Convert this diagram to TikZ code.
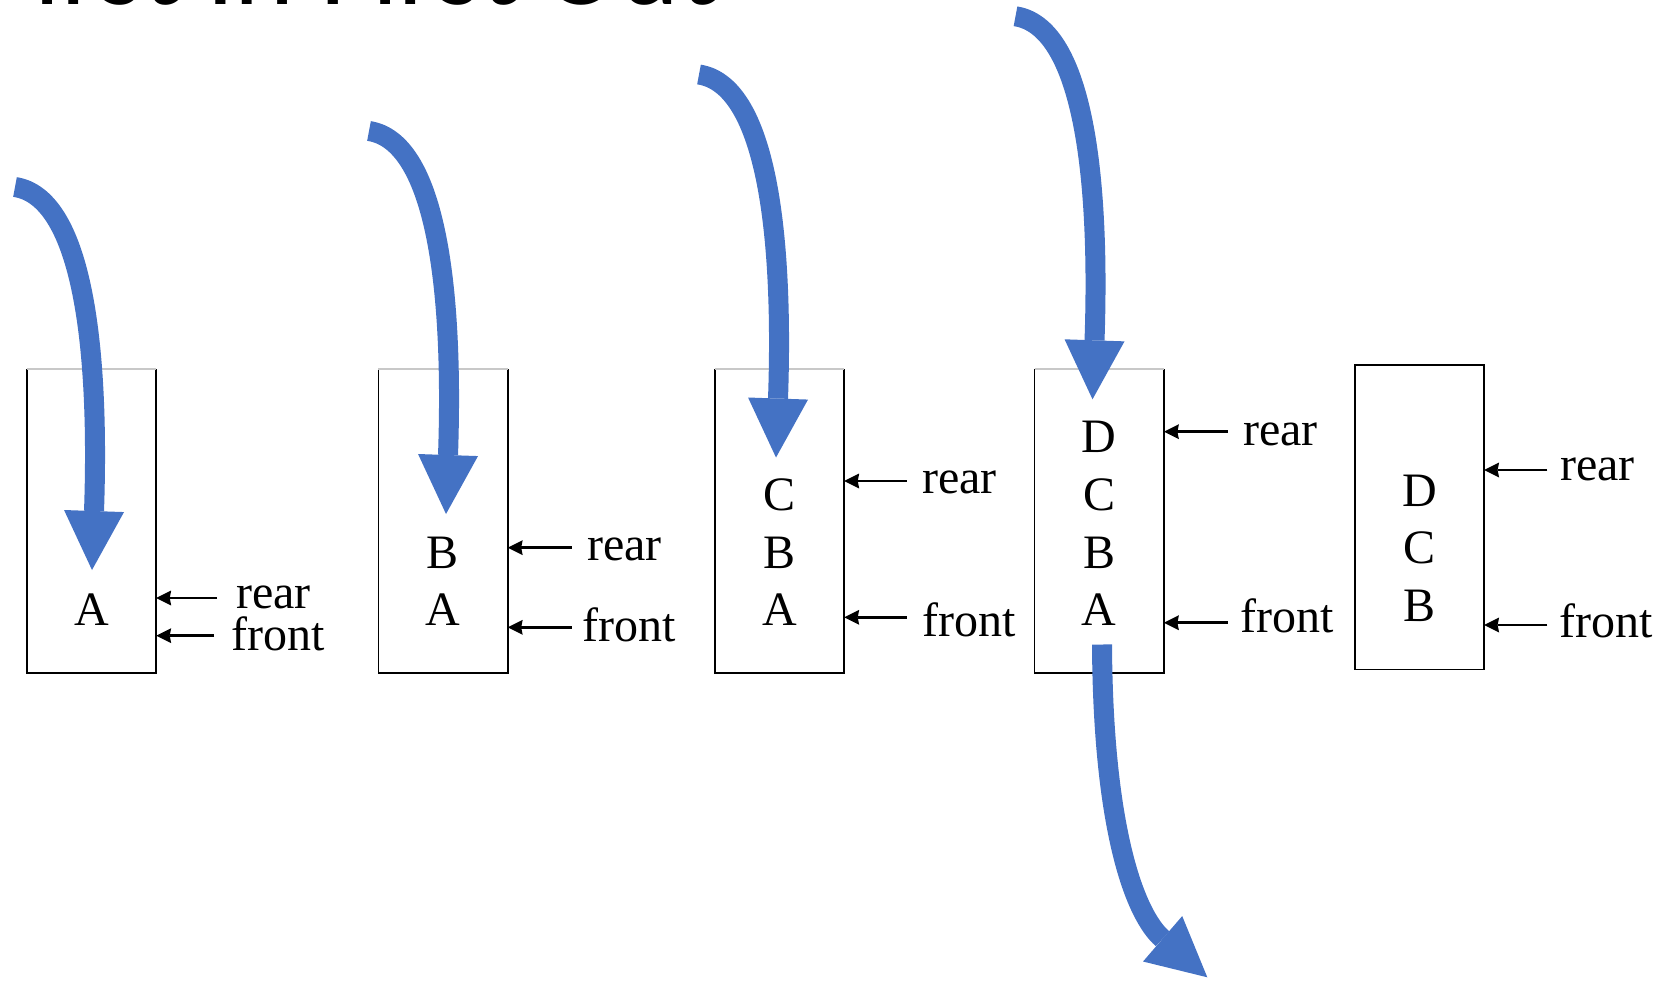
\documentclass[tikz,border=0pt]{standalone}
\usepackage{fontspec}
\setmainfont{Liberation Serif}
\newfontfamily\titlefont{Carlito}
\usetikzlibrary{arrows.meta,calc}
\definecolor{qblue}{HTML}{4472C4}
\definecolor{topgray}{HTML}{C8C8C8}
\begin{document}
\begin{tikzpicture}[x=1pt,y=-1pt,
  qbox/.style={rectangle, inner sep=0pt, minimum width=129pt, minimum height=304pt},
  side/.style={line width=1.6pt, black},
  lid/.style={line width=1.6pt, topgray},
  letter/.style={anchor=base, inner sep=0pt, font=\fontsize{48}{48}\selectfont},
  lbl/.style={anchor=base west, inner sep=0pt, font=\fontsize{48}{48}\selectfont},
  ptr/.style={line width=2.8pt, -{Stealth[length=15pt,width=15pt,inset=1.5pt,line width=0pt]}},
  flow/.style={line width=20pt, qblue, -{Triangle[width=60pt,length=59pt,line width=0pt]}}]
\useasboundingbox (0,0) rectangle (1665,980);
\clip (0,0) rectangle (1665,980);

% title (cut off at top)
\node[anchor=base west, inner sep=0pt, font=\titlefont\fontsize{114}{114}\selectfont] (title) at (-17.6,4.5) {First In First Out};

% boxes
\node[qbox] (b1) at (91.5,521) {};
\node[qbox] (b2) at (443,521) {};
\node[qbox] (b3) at (779.5,521) {};
\node[qbox] (b4) at (1099.2,521) {};
\node[qbox] (b5) at (1419.4,517.2) {};
\foreach \b in {b1,b2,b3,b4}{
  \draw[side] (\b.north west) -- (\b.south west) -- (\b.south east) -- (\b.north east);
  \draw[lid] (\b.north west) -- (\b.north east);
}
\draw[side] (b5.north west) rectangle (b5.south east);

% letters
\node[letter] (b1a) at (91.5,625) {A};
\node[letter] (b2b) at (443,568.3) {B};
\node[letter] (b2a) at (443,625) {A};
\node[letter] (b3c) at (779.5,510) {C};
\node[letter] (b3b) at (779.5,568) {B};
\node[letter] (b3a) at (779.5,625) {A};
\node[letter] (b4d) at (1099.2,452) {D};
\node[letter] (b4c) at (1099.2,510) {C};
\node[letter] (b4b) at (1099.2,568) {B};
\node[letter] (b4a) at (1099.2,625) {A};
\node[letter] (b5d) at (1419.4,506) {D};
\node[letter] (b5c) at (1419.4,563.5) {C};
\node[letter] (b5b) at (1419.4,621) {B};

% labels
\node[lbl] (r1) at (236,608.3) {rear};
\node[lbl] (f1) at (231,650) {front};
\node[lbl] (r2) at (587,560) {rear};
\node[lbl] (f2) at (582,641.7) {front};
\node[lbl] (r3) at (922,493.3) {rear};
\node[lbl] (f3) at (922,636) {front};
\node[lbl] (r4) at (1243,445) {rear};
\node[lbl] (f4) at (1240,632.7) {front};
\node[lbl] (r5) at (1560,480) {rear};
\node[lbl] (f5) at (1559,637.7) {front};

% pointer arrows
\coordinate (pr1) at (217,598);
\coordinate (pf1) at (214,635.7);
\coordinate (pr2) at (571.7,547.7);
\coordinate (pf2) at (571.7,627.3);
\coordinate (pr3) at (906.7,481);
\coordinate (pf3) at (906.7,617.3);
\coordinate (pr4) at (1227.7,431.7);
\coordinate (pf4) at (1227.7,622.7);
\coordinate (pr5) at (1547.4,470);
\coordinate (pf5) at (1547.4,625);
\draw[ptr] (pr1) -- (pr1 -| b1.east);
\draw[ptr] (pf1) -- (pf1 -| b1.east);
\draw[ptr] (pr2) -- (pr2 -| b2.east);
\draw[ptr] (pf2) -- (pf2 -| b2.east);
\draw[ptr] (pr3) -- (pr3 -| b3.east);
\draw[ptr] (pf3) -- (pf3 -| b3.east);
\draw[ptr] (pr4) -- (pr4 -| b4.east);
\draw[ptr] (pf4) -- (pf4 -| b4.east);
\draw[ptr] (pr5) -- (pr5 -| b5.east);
\draw[ptr] (pf5) -- (pf5 -| b5.east);

% blue enqueue arrows
\coordinate (in1s) at (15,187);     \coordinate (in1e) at (92,570);
\coordinate (in2s) at (369,131);    \coordinate (in2e) at (446,514);
\coordinate (in3s) at (699,74.5);   \coordinate (in3e) at (776,457.5);
\coordinate (in4s) at (1015.5,16.3);\coordinate (in4e) at (1092.5,399.3);
\foreach \i in {1,2,3,4}{
  \draw[flow] (in\i s) .. controls ($(in\i s)+(65,10)$) and ($(in\i e)+(8,-233)$) .. (in\i e);
}
% blue dequeue arrow
\coordinate (outs) at (1102,644.5);
\coordinate (oute) at (1207.3,977.3);
\draw[flow] (outs) .. controls ($(outs)+(1,185.5)$) and ($(oute)+(-72.3,-62.3)$) .. (oute);
\end{tikzpicture}
\end{document}
